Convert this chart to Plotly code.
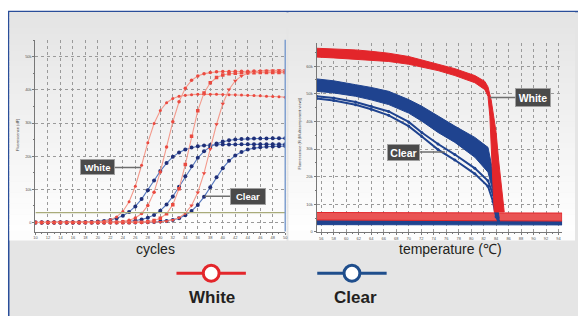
import plotly.graph_objects as go

W, H = 578, 316

# ---------------- left chart data (amplification) ----------------
cycles = list(range(10, 51))
white_a = [0, 0, 0, 0, 0, 0, 0, 0, 0, 100, 210, 425, 860, 1710, 3350, 6270, 10960, 17280, 24090, 29840,
           33790, 36130, 37400, 38050, 38380, 38550, 38650, 38700, 38700, 38650, 38600, 38550, 38500, 38450,
           38400, 38300, 38200, 38100, 38000, 37900, 37800]
white_b = [0, 0, 0, 0, 0, 0, 0, 0, 0, 0, 30, 50, 90, 180, 360, 715, 1400, 2720, 5110, 9170, 15250, 22800,
           30360, 36420, 40500, 42880, 44190, 44880, 45240, 45420, 45510, 45560, 45600, 45620, 45640, 45650,
           45650, 45660, 45650, 45650, 45640]
white_c = [0, 0, 0, 0, 0, 0, 0, 0, 0, 0, 0, 0, 0, 0, 0, 0, 60, 130, 280, 600, 1280, 2670, 5390, 10230,
           17490, 26050, 33730, 39070, 42130, 43710, 44500, 44870, 45040, 45120, 45160, 45180, 45200, 45200,
           45200, 45200, 45200]
white_d = [0, 0, 0, 0, 0, 0, 0, 0, 0, 0, 0, 0, 0, 0, 0, 0, 0, 0, 55, 106, 207, 400, 774, 1480, 2800, 5160,
           9070, 14900, 22180, 29630, 35810, 40090, 42730, 44210, 45020, 45440, 45670, 45780, 45840, 45870, 45890]
clear_a = [0, 0, 0, 0, 0, 25, 40, 70, 112, 183, 300, 490, 800, 1290, 2050, 3210, 4860, 7070, 9750, 12680,
           15510, 17920, 19800, 21140, 22040, 22630, 23000, 23230, 23370, 23460, 23510, 23540, 23560, 23580,
           23590, 23590, 23600, 23600, 23600, 23600, 23600]
clear_b = [0, 0, 0, 0, 0, 0, 0, 0, 0, 0, 28, 45, 77, 126, 207, 340, 556, 904, 1460, 2315, 3600, 5440, 7870,
           10810, 13960, 16970, 19520, 21470, 22860, 23800, 24400, 24790, 25020, 25170, 25260, 25310, 25350,
           25370, 25380, 25390, 25390]
clear_c = [0, 0, 0, 0, 0, 0, 0, 0, 0, 0, 0, 0, 0, 0, 0, 21, 34, 59, 102, 173, 289, 485, 810, 1335, 2180, 3460,
           5310, 7750, 10640, 13650, 16400, 18610, 20220, 21300, 22000, 22440, 22710, 22860, 22950, 23000, 23040]
threshold = 3000
cycle_ticks = list(range(10, 51, 2))
amp_ticks = [0, 10000, 20000, 30000, 40000, 50000]

# ---------------- right chart data (melt) ----------------
red_top_t = [55.25, 58, 61.5, 64, 66.8, 70, 72.1, 74.7, 77.4, 80.6, 82.2, 82.7, 83.2, 83.6, 84.0, 84.4, 84.8, 85.3]
red_top_v = [66500, 66300, 65900, 65400, 64700, 63500, 62300, 60900, 59100, 56600, 54500, 52500, 47900, 42000,
             36000, 26000, 16800, 7200]
red_bot_t = [55.25, 58, 61.5, 64, 66.8, 70, 72.1, 74.7, 77.4, 80.6, 82.2, 82.7, 83.0, 83.4, 83.7]
red_bot_v = [63300, 63000, 62600, 62200, 61700, 60700, 59700, 58400, 56600, 54000, 51500, 49100, 41900, 24000, 7200]

blue_top_t = [55.25, 58, 61.5, 64, 66.8, 70, 72.1, 74.7, 77.4, 80.6, 82.7, 83.5, 84.0, 84.5]
blue_top_v = [55400, 54700, 53300, 52300, 50900, 47900, 45500, 41900, 38300, 34200, 30600, 21600, 12000, 5000]
blue_bot_t = [55.25, 58, 61.5, 64, 66.8, 70, 72.1, 74.7, 77.4, 80.6, 82.7, 83.8, 84.3]
blue_bot_v = [50900, 50300, 49100, 47800, 46100, 43000, 40100, 36000, 32400, 27000, 21600, 12000, 4000]

blue_line_t = [55.25, 58, 61.5, 64, 66.8, 70, 72.1, 74.7, 77.4, 80.6, 82.7, 83.5, 84.0, 84.4]
blue_line1_v = [49100, 48500, 47000, 45500, 43600, 39800, 36000, 31800, 28000, 23000, 18500, 13500, 8000, 4000]
blue_line2_v = [48300, 47600, 46000, 44400, 42200, 38300, 34500, 29800, 26000, 21000, 16500, 11000, 5500, 3500]

base_t = [55.25, 94.57]
red_base_top = [7000, 6800]
red_base_bot = [4300, 3900]
blue_base_top = [4200, 4000]
blue_base_bot = [2600, 2500]

temp_ticks = list(range(56, 95, 2))
melt_ticks = [0, 10000, 20000, 30000, 40000, 50000, 60000]

# ---------------- colours ----------------
RED = "#e3262b"
RED_LINE = "#f39a8c"
RED_MK = "#ea4a40"
BLUE = "#1f438f"
BLUE_LINE = "#5577bd"
BLUE_MK = "#1f2f78"
FRAME = "#2a4e9a"

fig = go.Figure()

# left traces: blue first, red on top
for vals, sym in [(clear_a, "circle"), (clear_b, "circle"), (clear_c, "circle")]:
    fig.add_trace(go.Scatter(x=cycles, y=vals, mode="lines+markers", xaxis="x", yaxis="y",
                             line=dict(color=BLUE_LINE, width=1.1),
                             marker=dict(symbol=sym, size=4, color=BLUE_MK), showlegend=False))
for vals, sym, sz in [(white_a, "circle", 3), (white_b, "circle", 3.5), (white_c, "square", 3.5),
                      (white_d, "triangle-down", 4)]:
    fig.add_trace(go.Scatter(x=cycles, y=vals, mode="lines+markers", xaxis="x", yaxis="y",
                             line=dict(color=RED_LINE, width=1.1),
                             marker=dict(symbol=sym, size=sz, color=RED_MK), showlegend=False))
fig.add_trace(go.Scatter(x=[cycles[0], cycles[-1]], y=[threshold, threshold], mode="lines",
                         xaxis="x", yaxis="y", line=dict(color="#a9ab7a", width=1.4), showlegend=False))


def band(t_top, v_top, t_bot, v_bot, fill, edge):
    fig.add_trace(go.Scatter(x=t_top + t_bot[::-1], y=v_top + v_bot[::-1], mode="lines",
                             xaxis="x2", yaxis="y2", fill="toself", fillcolor=fill,
                             line=dict(color=edge, width=1), showlegend=False))


band(base_t, blue_base_top, base_t, blue_base_bot, BLUE, BLUE)
band(base_t, red_base_top, base_t, red_base_bot, "#e95454", RED)
band(blue_top_t, blue_top_v, blue_bot_t, blue_bot_v, BLUE, BLUE)
for vals in [blue_line1_v, blue_line2_v]:
    fig.add_trace(go.Scatter(x=blue_line_t, y=vals, mode="lines+markers", xaxis="x2", yaxis="y2",
                             line=dict(color=BLUE, width=2), marker=dict(size=3, color=BLUE),
                             showlegend=False))
band(red_top_t, red_top_v, red_bot_t, red_bot_v, RED, RED)


def px_x(p):
    return p / W


def px_y(p):
    return (H - p) / H


shapes = []
# background frame
shapes.append(dict(type="rect", xref="paper", yref="paper", x0=px_x(6.8), x1=1.05, y0=-0.05, y1=px_y(11.5),
                   fillcolor="#e5e5e5", line=dict(color=FRAME, width=1.5), layer="below"))
# gradient panels
n = 40
for (xa, xb) in [(7.5, 287), (289, 578)]:
    top, bot = 12, 232
    for i in range(n):
        ya = top + (bot - top) * i / n
        yb = top + (bot - top) * (i + 1) / n
        g = int(0xe4 + (0xff - 0xe4) * (i + 0.5) / n)
        c = "#%02x%02x%02x" % (g, g, g)
        shapes.append(dict(type="rect", xref="paper", yref="paper", x0=px_x(xa), x1=px_x(xb),
                           y0=px_y(yb + 0.5), y1=px_y(ya), fillcolor=c, line=dict(width=0), layer="below"))
    shapes.append(dict(type="rect", xref="paper", yref="paper", x0=px_x(xa), x1=px_x(xb),
                       y0=px_y(242), y1=px_y(232), fillcolor="#fdfdfd", line=dict(width=0), layer="below"))
# left plot right border
shapes.append(dict(type="line", xref="x domain", yref="y domain", x0=1, x1=1, y0=0, y1=1,
                   line=dict(color="#7f9fcf", width=1.5)))
# legend
for (xl, xr, xc, col) in [(176, 246, 211, RED), (318, 388, 353, "#1f4e8c")]:
    shapes.append(dict(type="line", xref="paper", yref="paper", x0=px_x(xl), x1=px_x(xr),
                       y0=px_y(275), y1=px_y(275), line=dict(color=col, width=3)))
    shapes.append(dict(type="circle", xref="paper", yref="paper", x0=px_x(xc - 8), x1=px_x(xc + 8),
                       y0=px_y(283), y1=px_y(267), fillcolor="white", line=dict(color=col, width=3)))

annotations = []
FONT = "Liberation Sans, Arial, sans-serif"


def label(text, x, y, size, color="#231f20", angle=0):
    annotations.append(dict(text=text, x=px_x(x), y=px_y(y), xref="paper", yref="paper",
                            xanchor="center", yanchor="middle", showarrow=False, textangle=angle,
                            font=dict(family=FONT, size=size, color=color)))


label("<b>White</b>", 212, 299, 17)
label("<b>Clear</b>", 357, 299, 17)
label("cycles", 155, 251, 14)
label("temperature (℃)", 452, 251, 14)
label("Fluorescence (dF)", 15, 135, 4, "#444", -90)
label("Fluorescence (R (Multicomponent view))", 300, 134, 4, "#444", -90)


def callout(text, x, y, xr, yr, ax, w, h, fs):
    annotations.append(dict(text="<b>%s</b>" % text, x=x, y=y, xref=xr, yref=yr, ax=ax, ay=0,
                            showarrow=True, arrowhead=0, arrowwidth=1.5, arrowcolor="#6e6e6e",
                            bgcolor="#4a4a4a", bordercolor="#a0a0a0", borderwidth=1, borderpad=1,
                            width=w, height=h, font=dict(family=FONT, size=fs, color="white")))


callout("White", 26.9, 16600, "x", "y", -43, 31, 12, 9.5)
callout("Clear", 37.1, 7900, "x", "y", 43, 32, 13, 9.5)
callout("White", 83.0, 48700, "x2", "y2", 43, 32, 15, 10.5)
callout("Clear", 75.8, 28900, "x2", "y2", -41, 29, 13, 10.5)

axis_common = dict(showgrid=True, gridcolor="#9a9a9a", griddash="dot", gridwidth=0.8, zeroline=False,
                   showline=True, linecolor="#777", linewidth=1, ticks="outside", ticklen=2,
                   tickcolor="#777", tickfont=dict(family=FONT, size=4, color="#555"))

fig.update_layout(
    width=W, height=H, margin=dict(l=0, r=0, t=0, b=0),
    paper_bgcolor="white", plot_bgcolor="rgba(0,0,0,0)",
    xaxis=dict(domain=[33.7 / W, 285.7 / W], range=[10, 50], tickvals=cycle_ticks, anchor="y",
               minor=dict(dtick=1, ticks="outside", ticklen=1, tickcolor="#777"), **axis_common),
    yaxis=dict(domain=[px_y(233), px_y(40)], range=[-2700, 55100], tickvals=amp_ticks, anchor="x",
               minor=dict(dtick=5000, ticks="outside", ticklen=1, tickcolor="#777", showgrid=False),
               **axis_common),
    xaxis2=dict(domain=[317.3 / W, 565 / W], range=[55.25, 94.57], tickvals=temp_ticks, anchor="y2",
                minor=dict(dtick=1, ticks="outside", ticklen=1, tickcolor="#777"), **axis_common),
    yaxis2=dict(domain=[px_y(233.3), px_y(43)], range=[0, 68500], tickvals=melt_ticks, anchor="x2",
                minor=dict(dtick=5000, ticks="outside", ticklen=1, tickcolor="#777", showgrid=False),
                **axis_common),
    shapes=shapes, annotations=annotations, showlegend=False,
)

fig.write_html("out.html", config={"displayModeBar": False},
               post_script="document.body.style.margin='0';document.body.style.overflow='hidden';")
